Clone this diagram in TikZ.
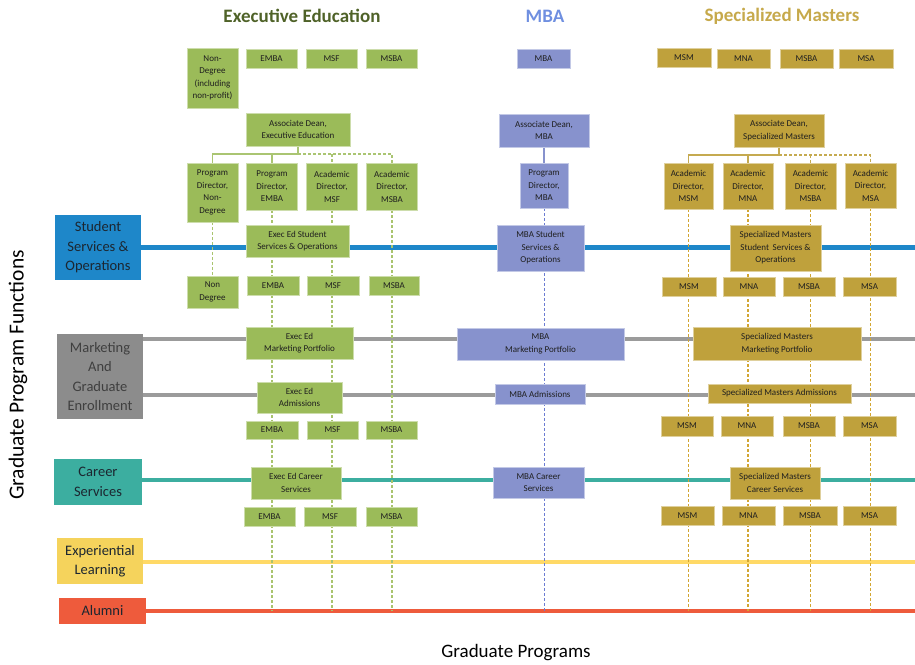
\documentclass[tikz,border=0pt]{standalone}
\usepackage{fontspec}
\setmainfont{Carlito}
\usetikzlibrary{backgrounds}
\definecolor{eegreen}{HTML}{9BBB59}
\definecolor{mbablue}{HTML}{8792CD}
\definecolor{smgold}{HTML}{BFA13C}
\definecolor{eehead}{HTML}{4F6228}
\definecolor{mbahead}{HTML}{6F8FE0}
\definecolor{smhead}{HTML}{C6A94B}
\definecolor{boxtext}{HTML}{1F1F1F}
\definecolor{fntext}{HTML}{1C2630}
\definecolor{mktext}{HTML}{3F3F3F}
\definecolor{fblue}{HTML}{1E87C9}
\definecolor{fgray}{HTML}{8C8C8C}
\definecolor{lgray}{HTML}{9B9B9B}
\definecolor{fteal}{HTML}{3CAEA0}
\definecolor{fyellow}{HTML}{F5D35C}
\definecolor{lyellow}{HTML}{FFD966}
\definecolor{fred}{HTML}{EE5B3C}
\definecolor{eedashc}{HTML}{A9C46E}
\definecolor{mbadashc}{HTML}{6B7CD2}
\definecolor{smdashc}{HTML}{D2A632}
\tikzset{
  bx/.style={inner sep=1pt, align=center, font=\fontsize{9}{12.5}\selectfont, text=boxtext, line width=0.7pt},
  ee/.style={bx, fill=eegreen, draw=eegreen!50!white},
  mba/.style={bx, fill=mbablue, draw=mbablue!50!white},
  sm/.style={bx, fill=smgold, draw=smgold!50!white},
  fn/.style={align=center, font=\fontsize{14.5}{19.5}\selectfont, text=fntext, inner sep=1pt},
  hline/.style={line width=4.5pt},
  eevert/.style={draw=eedashc, line width=1.1pt, dash pattern=on 3pt off 2pt},
  mbavert/.style={draw=mbadashc, line width=1pt, dash pattern=on 3pt off 2pt},
  smvert/.style={draw=smdashc, line width=1.1pt, dash pattern=on 3pt off 2pt},
  eetree/.style={draw=eegreen!85!white, line width=1.6pt},
  mbatree/.style={draw=mbablue, line width=1.4pt},
  smtree/.style={draw=smgold!90!white, line width=1.6pt},
  head/.style={font=\fontsize{19}{22}\selectfont\bfseries},
}
\newcommand\bnode[6]{\node[#1, minimum width=#4, minimum height=#5] (#2) at (#3) {#6};}
\begin{document}
\begin{tikzpicture}[x=1pt,y=-1pt]
\useasboundingbox (0,0) rectangle (915,664);
\coordinate (endy) at (0,611);
\coordinate (redge) at (915,0);
\coordinate (mk1) at (0,339);
\coordinate (mk2) at (0,395);
\coordinate (eebus) at (0,154);
\coordinate (smbus) at (0,155);

% headers
\node[head, text=eehead] (h1) at (302,16) {Executive Education};
\node[head, text=mbahead] (h2) at (545,16) {MBA};
\node[head, text=smhead] (h3) at (782,16) {Specialized Masters};

% axis labels
\node[rotate=90, font=\fontsize{21.5}{24}\selectfont, text=black] (yl) at (18,375) {Graduate Program Functions};
\node[font=\fontsize{19}{22}\selectfont, text=black] (xl) at (516,653) {Graduate Programs};

% function boxes
\node[fn, fill=fblue, minimum width=86, minimum height=65] (fss) at (98,247.5) {Student\\Services \&\\Operations};
\node[fn, fill=fgray, text=mktext, minimum width=86, minimum height=85] (fmkt) at (100,376.5) {Marketing\\And\\Graduate\\Enrollment};
\node[fn, fill=fteal, minimum width=88, minimum height=46] (fcar) at (98,482) {Career\\Services};
\node[fn, fill=fyellow, minimum width=86, minimum height=46] (fexp) at (100,561) {Experiential\\Learning};
\node[fn, fill=fred, minimum width=87, minimum height=26] (falum) at (102.5,611) {Alumni};

% ---------------- Executive Education
\bnode{ee}{eendtop}{212.5,78}{51}{60}{Non-\\Degree\\(including\\non-profit)}
\bnode{ee}{eeembatop}{271.5,58.5}{51}{19}{EMBA}
\bnode{ee}{eemsftop}{331.5,58.5}{51}{19}{MSF}
\bnode{ee}{eemsbatop}{391.5,58.5}{51}{19}{MSBA}
\bnode{ee}{eedean}{298,129.5}{104}{33}{Associate Dean,\\Executive Education}
\bnode{ee}{pdnd}{212.5,192.5}{51}{59}{Program\\Director,\\Non-\\Degree}
\bnode{ee}{pdemba}{272,186.5}{51}{47}{Program\\Director,\\EMBA}
\bnode{ee}{admsf}{332,186.5}{51}{47}{Academic\\Director,\\MSF}
\bnode{ee}{admsba}{392,186.5}{51}{47}{Academic\\Director,\\MSBA}
\bnode{ee}{eess}{297.5,241}{103}{32}{Exec Ed Student\\Services \& Operations}
\bnode{ee}{eessnd}{212.5,292}{51}{32}{Non\\Degree}
\bnode{ee}{eessemba}{273,285.5}{52}{19}{EMBA}
\bnode{ee}{eessmsf}{333,285.5}{52}{19}{MSF}
\bnode{ee}{eessmsba}{394,285.5}{50}{19}{MSBA}
\bnode{ee}{eemkt}{299.5,343}{107}{32}{Exec Ed\\Marketing Portfolio}
\bnode{ee}{eeadm}{299.5,397.5}{85}{31}{Exec Ed\\Admissions}
\bnode{ee}{eeademba}{272,430}{52}{18}{EMBA}
\bnode{ee}{eeadmsf}{332.5,430}{51}{18}{MSF}
\bnode{ee}{eeadmsba}{391.5,430}{51}{18}{MSBA}
\bnode{ee}{eecar}{296,483}{90}{32}{Exec Ed Career\\Services}
\bnode{ee}{eecaremba}{269.5,516.5}{51}{19}{EMBA}
\bnode{ee}{eecarmsf}{330,516.5}{52}{19}{MSF}
\bnode{ee}{eecarmsba}{391.5,516.5}{51}{19}{MSBA}

% ---------------- MBA
\bnode{mba}{mbatop}{543.5,58.5}{53}{19}{MBA}
\bnode{mba}{mbadean}{544,130.5}{90}{33}{Associate Dean,\\MBA}
\bnode{mba}{mbapd}{544,185.5}{48}{45}{Program\\Director,\\MBA}
\bnode{mba}{mbass}{540.5,248}{87}{46}{MBA Student\\Services \&\\Operations}
\bnode{mba}{mbamkt}{540.5,344}{167}{32}{MBA\\Marketing Portfolio}
\bnode{mba}{mbaadm}{540,394}{90}{20}{MBA Admissions}
\bnode{mba}{mbacar}{538.5,482.5}{91}{31}{MBA Career\\Services}

% ---------------- Specialized Masters
\bnode{sm}{smmsmtop}{684,58}{54}{19}{MSM}
\bnode{sm}{smmnatop}{743.5,58.5}{53}{19}{MNA}
\bnode{sm}{smmsbatop}{806.5,58.5}{53}{19}{MSBA}
\bnode{sm}{smmsatop}{866,58.5}{54}{19}{MSA}
\bnode{sm}{smdean}{779,130.5}{90}{33}{Associate Dean,\\Specialized Masters}
\bnode{sm}{admsm}{688.5,186}{49}{46}{Academic\\Director,\\MSM}
\bnode{sm}{admna}{748,186}{50}{46}{Academic\\Director,\\MNA}
\bnode{sm}{admsbasm}{810.5,186}{51}{46}{Academic\\Director,\\MSBA}
\bnode{sm}{admsa}{870.5,185.5}{51}{45}{Academic\\Director,\\MSA}
\bnode{sm}{smss}{775.5,248}{91}{46}{Specialized Masters\\Student\, Services \&\\Operations}
\bnode{sm}{smssmsm}{689,286.5}{54}{19}{MSM}
\bnode{sm}{smssmna}{749,286.5}{52}{19}{MNA}
\bnode{sm}{smssmsba}{809,286.5}{52}{19}{MSBA}
\bnode{sm}{smssmsa}{869.5,286.5}{53}{19}{MSA}
\bnode{sm}{smmkt}{777,343.5}{168}{33}{Specialized Masters\\Marketing Portfolio}
\bnode{sm}{smadm}{779.5,393.5}{143}{19}{Specialized Masters Admissions}
\bnode{sm}{smadmsm}{687,426}{52}{20}{MSM}
\bnode{sm}{smadmna}{747,426}{52}{20}{MNA}
\bnode{sm}{smadmsba}{809,426}{52}{20}{MSBA}
\bnode{sm}{smadmsa}{869.5,426}{53}{20}{MSA}
\bnode{sm}{smcar}{775,483}{90}{32}{Specialized Masters\\Career Services}
\bnode{sm}{smcarmsm}{687.5,515.5}{53}{19}{MSM}
\bnode{sm}{smcarmna}{748.5,515.5}{53}{19}{MNA}
\bnode{sm}{smcarmsba}{810,515.5}{54}{19}{MSBA}
\bnode{sm}{smcarmsa}{869.5,515.5}{53}{19}{MSA}

\begin{scope}[on background layer]
% function lines
\draw[hline, fblue] (fss.east) -- (fss.east -| redge);
\draw[hline, lgray] (fmkt.east |- mk1) -- (redge |- mk1);
\draw[hline, lgray] (fmkt.east |- mk2) -- (redge |- mk2);
\draw[hline, fteal] (fcar.east |- 0,480) -- (redge |- 0,480);
\draw[hline, lyellow] (fexp.east |- 0,562) -- (redge |- 0,562);
\draw[hline, fred] (falum.east) -- (falum.east -| redge);

% exec ed tree
\draw[eetree] (eedean.south) -- (eedean.south |- eebus);
\draw[eetree] (eedean.south |- eebus) -| (pdnd.north);
\draw[eetree] (pdemba.north |- eebus) -- (pdemba.north);
\draw[eetree, dash pattern=on 3pt off 2pt] (eedean.south |- eebus) -| (admsba.north);
\draw[eetree, dash pattern=on 3pt off 2pt] (admsf.north |- eebus) -- (admsf.north);
\draw[eevert] (pdnd.south) -- (eessnd.north);
\draw[eevert] (pdemba.south) -- (pdemba.south |- endy);
\draw[eevert] (admsf.south) -- (admsf.south |- endy);
\draw[eevert] (admsba.south) -- (admsba.south |- endy);

% MBA
\draw[mbatree] (mbadean.south) -- (mbapd.north);
\draw[mbavert] (mbapd.south) -- (mbapd.south |- endy);

% Specialized masters tree
\draw[smtree] (smdean.south) -- (smdean.south |- smbus);
\draw[smtree] (smdean.south |- smbus) -| (admsm.north);
\draw[smtree] (admna.north |- smbus) -- (admna.north);
\draw[smtree, dash pattern=on 3pt off 2pt] (smdean.south |- smbus) -| (admsa.north);
\draw[smtree, dash pattern=on 3pt off 2pt] (admsbasm.north |- smbus) -- (admsbasm.north);
\draw[smvert] (admsm.south) -- (admsm.south |- endy);
\draw[smvert] (admna.south) -- (admna.south |- endy);
\draw[smvert] (admsbasm.south) -- (admsbasm.south |- endy);
\draw[smvert] (admsa.south) -- (admsa.south |- endy);
\end{scope}
\end{tikzpicture}
\end{document}
